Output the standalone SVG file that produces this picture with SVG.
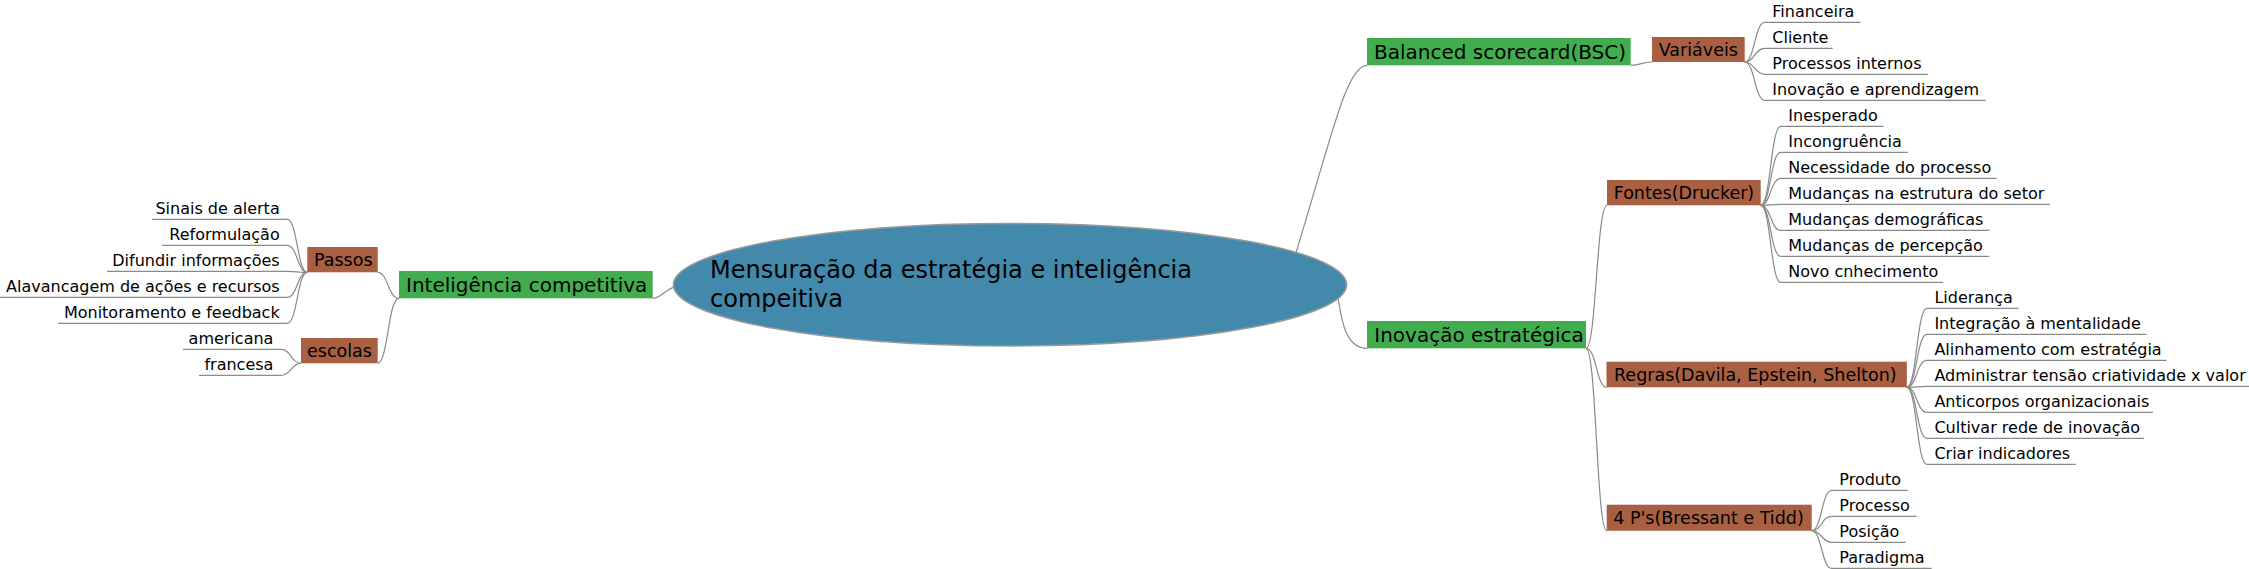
<svg xmlns="http://www.w3.org/2000/svg" width="2249" height="569" viewBox="0 0 2249 569">
<style>
text{font-family:"DejaVu Sans","Liberation Sans",sans-serif;fill:#000}
.c{fill:none;stroke:#8a8a8a;stroke-width:1.2}
.t0{font-size:24px}
.t1{font-size:20px}
.t2{font-size:17.5px}
.lf{font-size:16px}
.g{fill:#41ad4f}
.b{fill:#a85f42}
.r{text-anchor:end}
</style>
<rect width="2249" height="569" fill="#fff"/>
<g id="connectors">
<path class="c" d="M652.7 298.3 C664 298.3 664 284.7 690 284.7"/>
<path class="c" d="M1286 285 C1330 146 1345 65.3 1367 65.3"/>
<path class="c" d="M1336 284.7 C1341 320 1345 348.3 1367 348.3"/>
<path class="c" d="M1630.7 65.3 C1641.3 65.3 1641.3 62 1652 62"/>
<path class="c" d="M1586 348.3 C1596.5 348.3 1596.5 205.3 1607 205.3"/>
<path class="c" d="M1586 348.3 C1596.5 348.3 1596.5 387.3 1606.5 387.3"/>
<path class="c" d="M1586 348.3 C1596.5 348.3 1596.5 530.7 1606.7 530.7"/>
<path class="c" d="M399 298.3 C388 298.3 388 272.3 377.7 272.3"/>
<path class="c" d="M399 298.3 C388 298.3 388 363.3 377.7 363.3"/>
<!-- Variáveis leaves -->
<path class="c" d="M1744.7 62 C1754.7 62 1754.7 22.3 1764.7 22.3 H1860.7"/>
<path class="c" d="M1744.7 62 C1754.7 62 1754.7 48.3 1764.7 48.3 H1832.7"/>
<path class="c" d="M1744.7 62 C1754.7 62 1754.7 74.3 1764.7 74.3 H1927.7"/>
<path class="c" d="M1744.7 62 C1754.7 62 1754.7 100.3 1764.7 100.3 H1985.7"/>
<!-- Fontes leaves -->
<path class="c" d="M1760.7 205.3 C1770.7 205.3 1770.7 126.3 1780.7 126.3 H1883.3"/>
<path class="c" d="M1760.7 205.3 C1770.7 205.3 1770.7 152.3 1780.7 152.3 H1907.7"/>
<path class="c" d="M1760.7 205.3 C1770.7 205.3 1770.7 178.3 1780.7 178.3 H1996.7"/>
<path class="c" d="M1760.7 205.3 C1770.7 205.3 1770.7 204.3 1780.7 204.3 H2050"/>
<path class="c" d="M1760.7 205.3 C1770.7 205.3 1770.7 230.3 1780.7 230.3 H1989.3"/>
<path class="c" d="M1760.7 205.3 C1770.7 205.3 1770.7 256.3 1780.7 256.3 H1989.3"/>
<path class="c" d="M1760.7 205.3 C1770.7 205.3 1770.7 282.3 1780.7 282.3 H1943.3"/>
<!-- Regras leaves -->
<path class="c" d="M1906.8 387.3 C1916.8 387.3 1916.8 308.3 1926.8 308.3 H2018.6"/>
<path class="c" d="M1906.8 387.3 C1916.8 387.3 1916.8 334.3 1926.8 334.3 H2146.5"/>
<path class="c" d="M1906.8 387.3 C1916.8 387.3 1916.8 360.3 1926.8 360.3 H2166.6"/>
<path class="c" d="M1906.8 387.3 C1916.8 387.3 1916.8 386.3 1926.8 386.3 H2249"/>
<path class="c" d="M1906.8 387.3 C1916.8 387.3 1916.8 412.3 1926.8 412.3 H2153"/>
<path class="c" d="M1906.8 387.3 C1916.8 387.3 1916.8 438.3 1926.8 438.3 H2144"/>
<path class="c" d="M1906.8 387.3 C1916.8 387.3 1916.8 464.3 1926.8 464.3 H2075.7"/>
<!-- 4P's leaves -->
<path class="c" d="M1811.7 530.7 C1821.7 530.7 1821.7 490.3 1831.7 490.3 H1907.7"/>
<path class="c" d="M1811.7 530.7 C1821.7 530.7 1821.7 516.3 1831.7 516.3 H1916.7"/>
<path class="c" d="M1811.7 530.7 C1821.7 530.7 1821.7 542.3 1831.7 542.3 H1905.7"/>
<path class="c" d="M1811.7 530.7 C1821.7 530.7 1821.7 568.3 1831.7 568.3 H1931.7"/>
<!-- Passos leaves -->
<path class="c" d="M307.3 272.3 C297.3 272.3 297.3 219.3 287.3 219.3 H152"/>
<path class="c" d="M307.3 272.3 C297.3 272.3 297.3 245.3 287.3 245.3 H162"/>
<path class="c" d="M307.3 272.3 C297.3 272.3 297.3 271.3 287.3 271.3 H107"/>
<path class="c" d="M307.3 272.3 C297.3 272.3 297.3 297.3 287.3 297.3 H0"/>
<path class="c" d="M307.3 272.3 C297.3 272.3 297.3 323.3 287.3 323.3 H58"/>
<!-- escolas leaves -->
<path class="c" d="M301 363.3 C291 363.3 291 349.3 281 349.3 H183"/>
<path class="c" d="M301 363.3 C291 363.3 291 375.3 281 375.3 H199"/>
</g>
<g id="root">
<ellipse cx="1010" cy="284.7" rx="336.6" ry="61.3" fill="#4289ac" stroke="#9a9a9a" stroke-width="1.5"/>
<text class="t0" x="710" y="278.3">Mensuração da estratégia e inteligência</text>
<text class="t0" x="710" y="306.7">compeitiva</text>
</g>
<g id="n-bsc"><rect class="g" x="1367" y="38" width="263.7" height="27.3"/><text class="t1" x="1374" y="59.3">Balanced scorecard(BSC)</text></g>
<g id="n-inov"><rect class="g" x="1367" y="321" width="219" height="27.3"/><text class="t1" x="1374.3" y="342.3">Inovação estratégica</text></g>
<g id="n-intel"><rect class="g" x="399" y="271" width="253.7" height="27.3"/><text class="t1" x="406" y="292.3">Inteligência competitiva</text></g>
<g id="n-var"><rect class="b" x="1652" y="37" width="92.7" height="25"/><text class="t2" x="1658.7" y="55.7">Variáveis</text></g>
<g id="n-fontes"><rect class="b" x="1607" y="180" width="153.7" height="25.3"/><text class="t2" x="1613.7" y="199.3">Fontes(Drucker)</text></g>
<g id="n-regras"><rect class="b" x="1606.5" y="361.7" width="300.3" height="25.6"/><text class="t2" x="1614" y="380.7">Regras(Davila, Epstein, Shelton)</text></g>
<g id="n-4ps"><rect class="b" x="1606.7" y="504.7" width="205" height="26"/><text class="t2" x="1613.3" y="524">4 P's(Bressant e Tidd)</text></g>
<g id="n-passos"><rect class="b" x="307.3" y="247" width="70.4" height="25.3"/><text class="t2" x="314" y="266">Passos</text></g>
<g id="n-escolas"><rect class="b" x="301" y="338" width="76.7" height="25.3"/><text class="t2" x="307" y="357">escolas</text></g>
<g id="leaves-var">
<text class="lf" x="1772.3" y="16.7">Financeira</text>
<text class="lf" x="1772.3" y="42.7">Cliente</text>
<text class="lf" x="1772.3" y="68.7">Processos internos</text>
<text class="lf" x="1772.3" y="94.7">Inovação e aprendizagem</text>
</g>
<g id="leaves-fontes">
<text class="lf" x="1788.3" y="120.7">Inesperado</text>
<text class="lf" x="1788.3" y="146.7">Incongruência</text>
<text class="lf" x="1788.3" y="172.7">Necessidade do processo</text>
<text class="lf" x="1788.3" y="198.7">Mudanças na estrutura do setor</text>
<text class="lf" x="1788.3" y="224.7">Mudanças demográficas</text>
<text class="lf" x="1788.3" y="250.7">Mudanças de percepção</text>
<text class="lf" x="1788.3" y="276.7">Novo cnhecimento</text>
</g>
<g id="leaves-regras">
<text class="lf" x="1934.4" y="302.7">Liderança</text>
<text class="lf" x="1934.4" y="328.7">Integração à mentalidade</text>
<text class="lf" x="1934.4" y="354.7">Alinhamento com estratégia</text>
<text class="lf" x="1934.4" y="380.7">Administrar tensão criatividade x valor</text>
<text class="lf" x="1934.4" y="406.7">Anticorpos organizacionais</text>
<text class="lf" x="1934.4" y="432.7">Cultivar rede de inovação</text>
<text class="lf" x="1934.4" y="458.7">Criar indicadores</text>
</g>
<g id="leaves-4ps">
<text class="lf" x="1839.3" y="484.7">Produto</text>
<text class="lf" x="1839.3" y="510.7">Processo</text>
<text class="lf" x="1839.3" y="536.7">Posição</text>
<text class="lf" x="1839.3" y="562.7">Paradigma</text>
</g>
<g id="leaves-passos">
<text class="lf r" x="279.7" y="213.7">Sinais de alerta</text>
<text class="lf r" x="279.7" y="239.7">Reformulação</text>
<text class="lf r" x="279.7" y="265.7">Difundir informações</text>
<text class="lf r" x="279.7" y="291.7">Alavancagem de ações e recursos</text>
<text class="lf r" x="279.7" y="317.7">Monitoramento e feedback</text>
</g>
<g id="leaves-escolas">
<text class="lf r" x="273.4" y="343.7">americana</text>
<text class="lf r" x="273.4" y="369.7">francesa</text>
</g>
</svg>
